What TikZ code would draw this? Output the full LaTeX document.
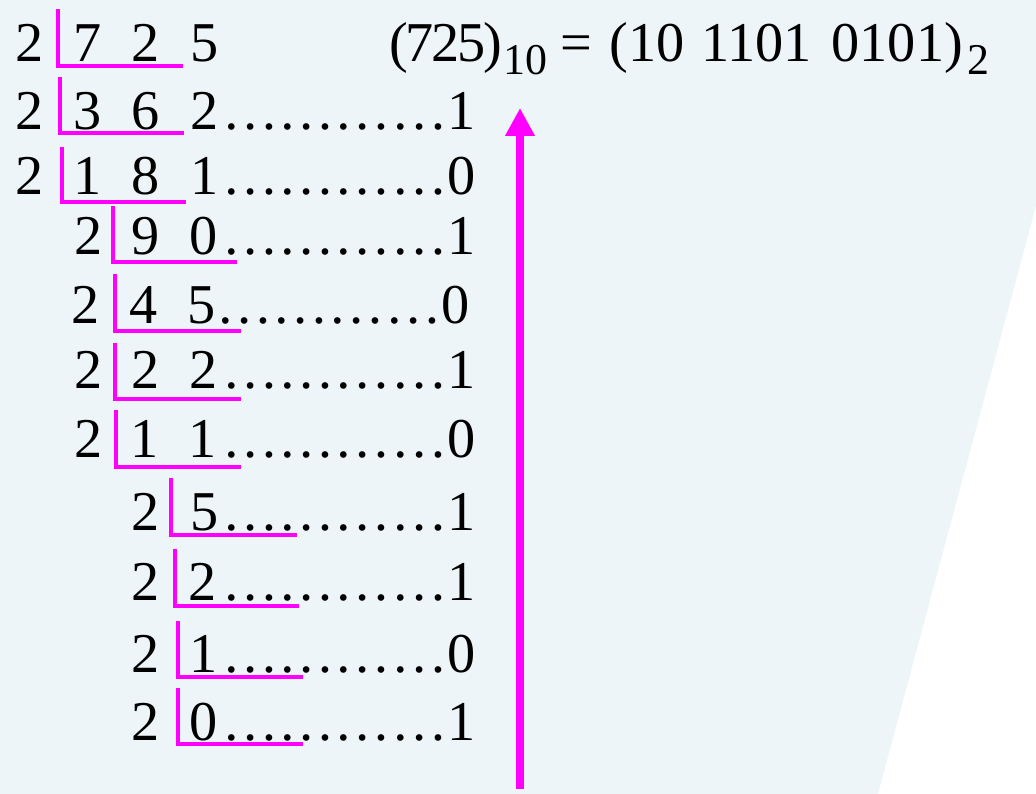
\documentclass[tikz,border=0pt]{standalone}
\usepackage{fontspec}
\setmainfont{Liberation Serif}
\usetikzlibrary{arrows.meta}
\definecolor{slide}{RGB}{237,245,248}
\definecolor{pen}{RGB}{255,0,255}
\newcommand{\gap}{\hspace{0.54em}}
\newcommand{\dotrun}{…………}

\begin{document}
\begin{tikzpicture}[x=0.02cm, y=-0.02cm,
    num/.style={anchor=base west, inner sep=0pt, font=\fontsize{32}{38}\selectfont},
    sub/.style={anchor=base west, inner sep=0pt, font=\fontsize{25}{30}\selectfont},
    bar/.style={draw=pen, line width=0.08cm, line join=miter},
    lift/.style={draw=pen, line width=0.17cm, -{Triangle[length=0.56cm, width=0.56cm]}}]
    \useasboundingbox (0,0) rectangle (1036,794);
    \fill[slide] (0,0) -- (1036,0) -- (1036,206) -- (878,794) -- (0,794) -- cycle;
    \node[num] (dec) at (389,62) {\addfontfeatures{LetterSpace=-4}(725)};
    \node[sub] (ten) at (503,75) {10};
    \node[num] (eq) at (560,62) {=};
    \node[num] (bin) at (609,62) {(10\hspace{0.3em}1101\hspace{0.36em}0101)};
    \node[sub] (two) at (967,75) {2};
    \node[num] (d1) at (15,62) {2}; \node[num] (q1) at (73,62) {7\gap2\gap5};
    \draw[bar] (58,9) |- (183,66);
    \node[num] (d2) at (15,130) {2}; \node[num] (q2) at (73,130) {3\gap6\gap2}; \node[num] (r2) at (222,130) {\dotrun1};
    \draw[bar] (60,77) |- (184,133);
    \node[num] (d3) at (15,195) {2}; \node[num] (q3) at (73,195) {1\gap8\gap1}; \node[num] (r3) at (222,195) {\dotrun0};
    \draw[bar] (62,147) |- (186,202);
    \node[num] (d4) at (74,255) {2}; \node[num] (q4) at (131,255) {9\gap0}; \node[num] (r4) at (222,255) {\dotrun1};
    \draw[bar] (113,206) |- (237,262);
    \node[num] (d5) at (71,323) {2}; \node[num] (q5) at (129,323) {4\gap5}; \node[num] (r5) at (216,323) {\dotrun0};
    \draw[bar] (115,274) |- (241,331);
    \node[num] (d6) at (74,388) {2}; \node[num] (q6) at (131,388) {2\gap2}; \node[num] (r6) at (222,388) {\dotrun1};
    \draw[bar] (115,343) |- (241,399);
    \node[num] (d7) at (74,458) {2}; \node[num] (q7) at (130,458) {1\gap1}; \node[num] (r7) at (222,458) {\dotrun0};
    \draw[bar] (116,410) |- (241,467);
    \node[num] (d8) at (131,530) {2}; \node[num] (q8) at (190,530) {5}; \node[num] (r8) at (222,530) {\dotrun1};
    \draw[bar] (171,478) |- (297,535);
    \node[num] (d9) at (131,600) {2}; \node[num] (q9) at (188,600) {2}; \node[num] (r9) at (222,600) {\dotrun1};
    \draw[bar] (175,549) |- (299,606);
    \node[num] (d10) at (131,672) {2}; \node[num] (q10) at (189,672) {1}; \node[num] (r10) at (222,672) {\dotrun0};
    \draw[bar] (178,621) |- (303,677);
    \node[num] (d11) at (131,740) {2}; \node[num] (q11) at (189,740) {0}; \node[num] (r11) at (222,740) {\dotrun1};
    \draw[bar] (178,688) |- (303,744);
    \coordinate (foot) at (520,789);
    \coordinate (tip) at (520,108);
    \draw[lift] (foot) -- (tip);
\end{tikzpicture}
\end{document}
